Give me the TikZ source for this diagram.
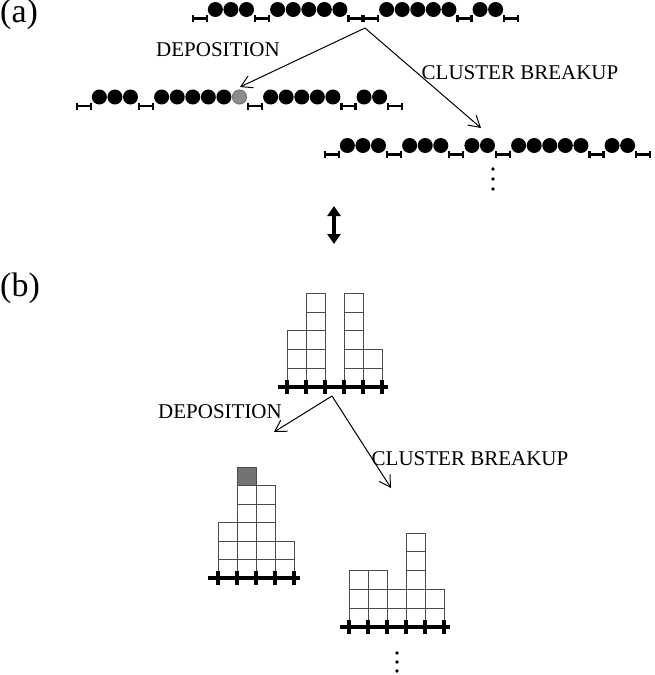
\documentclass[tikz,border=0pt]{standalone}
\usepackage{fontspec}
\setmainfont{Liberation Serif}
\usetikzlibrary{arrows.meta}
\tikzset{
    % lattice sites of the chain
    sitec/.pic={\fill[black] (0,0) circle (7.5pt);},
    siteg/.pic={\filldraw[fill=black!45, draw=black!65, line width=0.5pt] (0,0) circle (7.2pt);},
    sitee/.pic={\draw[line width=2.3pt] (-7,9) -- (7,9) (-7,5.5) -- (-7,12.5) (7,5.5) -- (7,12.5);},
    % height profile
    cell/.style={draw=black!70, line width=0.9pt},
    newcell/.style={cell, fill=black!55},
    axis/.style={line width=3.2pt},
    tickmark/.style={line width=3.2pt},
    % transitions
    move/.style={-{Straight Barb[length=11pt, width=13pt]}, line width=1pt},
    equiv/.style={{Triangle[length=10pt, width=13pt]}-{Triangle[length=10pt, width=13pt]}, line width=3.6pt},
    label/.style={font=\fontsize{21}{25}\selectfont, inner sep=0pt},
    part/.style={font=\fontsize{34}{40}\selectfont, inner sep=0pt, anchor=base west},
    dot/.style={fill=black}
}
\begin{document}
\begin{tikzpicture}[x=1pt, y=-1pt]
\useasboundingbox (0,0) rectangle (654,675);

% ---------------- (a) chain picture ----------------
\node[part] (parta) at (0,22) {(a)};

% Initial chain
\foreach \s [count=\i from 0] in {e,c,c,c,e,c,c,c,c,c,e,e,c,c,c,c,c,e,c,c,e}
  \pic at ({192+15.57*(\i+0.5)},9.5) {site\s};

% After deposition
\foreach \s [count=\i from 0] in {e,c,c,c,e,c,c,c,c,c,g,e,c,c,c,c,c,e,c,c,e}
  \pic at ({76+15.57*(\i+0.5)},97) {site\s};

% After cluster breakup
\foreach \s [count=\i from 0] in {e,c,c,c,e,c,c,c,e,c,c,e,c,c,c,c,c,e,c,c,e}
  \pic at ({324+15.57*(\i+0.5)},145.5) {site\s};

% Transitions
\coordinate (forka) at (365,28);
\coordinate (depoenda) at (240,87);
\coordinate (breakenda) at (481,128);
\draw[move] (forka) -- (depoenda);
\draw[move] (forka) -- (breakenda);
\node[label] (depoa) at (218,50) {DEPOSITION};
\node[label] (breaka) at (520,73) {CLUSTER BREAKUP};

% More configurations
\foreach \y in {169,179,189}
  \fill[dot] (493,\y) circle (1.9pt);

% ---------------- mapping ----------------
\coordinate (maptop) at (334,206);
\coordinate (mapbot) at (334,244);
\draw[equiv] (maptop) -- (mapbot);

% ---------------- (b) height profile ----------------
\node[part] (partb) at (0,296) {(b)};

% Initial profile
\foreach \h [count=\i from 0] in {3,5,0,5,2} {
  \ifnum\h>0
    \foreach \j in {1,...,\h}
      \draw[cell] ({287+19*\i},{387-18.7*(\j-1)}) rectangle +(19,-18.7);
  \fi
}
\draw[axis] (278,387) -- (388,387);
\foreach \t in {0,...,5}
  \draw[tickmark] ({287+19*\t},380) -- +(0,14);

% After deposition
\foreach \h [count=\i from 0] in {3,5,5,2} {
  \foreach \j in {1,...,\h}
    \draw[cell] ({218+19*\i},{578-18.5*(\j-1)}) rectangle +(19,-18.5);
}
\draw[newcell] (237,{578-18.5*5}) rectangle +(19,-18.5);
\draw[axis] (208,578) -- (300,578);
\foreach \t in {0,...,4}
  \draw[tickmark] ({218+19*\t},571) -- +(0,14);

% After cluster breakup
\foreach \h [count=\i from 0] in {3,3,2,5,2} {
  \foreach \j in {1,...,\h}
    \draw[cell] ({349+19*\i},{627-18.8*(\j-1)}) rectangle +(19,-18.8);
}
\draw[axis] (340,627) -- (450,627);
\foreach \t in {0,...,5}
  \draw[tickmark] ({349+19*\t},620) -- +(0,14);

% Transitions
\coordinate (forkb) at (332,396);
\coordinate (depoendb) at (274,432);
\coordinate (breakendb) at (391,488);
\draw[move] (forkb) -- (depoendb);
\draw[move] (forkb) -- (breakendb);
\node[label] (depob) at (220,412) {DEPOSITION};
\node[label] (breakb) at (470,459) {CLUSTER BREAKUP};

% More configurations
\foreach \y in {653,662,671}
  \fill[dot] (397,\y) circle (1.9pt);
\end{tikzpicture}
\end{document}
